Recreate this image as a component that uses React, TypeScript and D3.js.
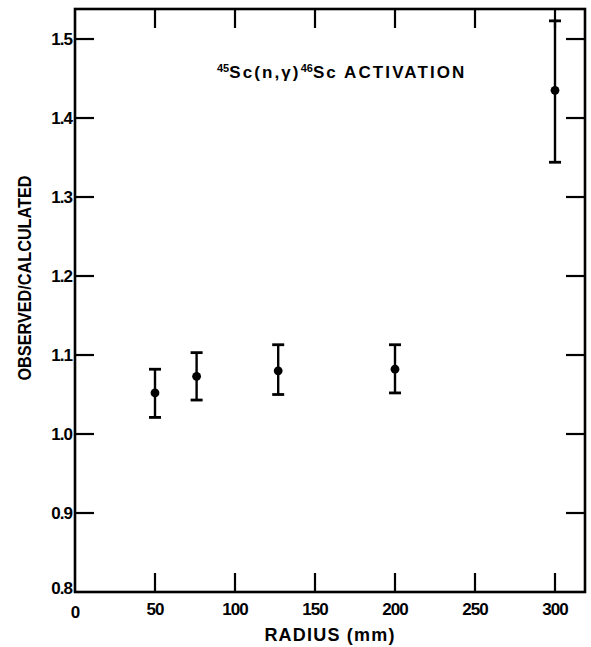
import React from "react";
import * as d3 from "d3";

const radius = [50, 76, 127, 200, 300];
const ratio = [1.052, 1.073, 1.080, 1.082, 1.435];
const lower = [1.021, 1.043, 1.050, 1.052, 1.344];
const upper = [1.082, 1.103, 1.113, 1.113, 1.523];
const xTicks = [0, 50, 100, 150, 200, 250, 300];
const yTicks = [0.8, 0.9, 1.0, 1.1, 1.2, 1.3, 1.4, 1.5];
const yTickLabels = ["0.8", "0.9", "1.0", "1.1", "1.2", "1.3", "1.4", "1.5"];

const W = 591, H = 647;
const left = 75, right = 585, top = 9, bottom = 592;

export default function App() {
  const x = d3.scaleLinear().domain([0, 318.75]).range([left, right]);
  const y = d3.scaleLinear().domain([0.8, 1.538]).range([bottom, top]);
  const font = "'Liberation Sans', Arial, sans-serif";
  const tickLen = 19;
  return (
    <svg width={W} height={H} style={{ position: "absolute", left: 0, top: 0, background: "#fff" }}>
      <rect x={left} y={top} width={right - left} height={bottom - top} fill="none" stroke="#000" strokeWidth={2.6} />
      {xTicks.slice(1).map((t) => (
        <g key={"xt" + t}>
          <line x1={x(t)} x2={x(t)} y1={bottom} y2={bottom - tickLen} stroke="#000" strokeWidth={2.2} />
          <line x1={x(t)} x2={x(t)} y1={top} y2={top + tickLen} stroke="#000" strokeWidth={2.2} />
        </g>
      ))}
      {xTicks.map((t) => (
        <text key={"xl" + t} x={x(t)} y={t === 0 ? 618 : 615} textAnchor="middle" fontFamily={font} fontWeight="bold" fontSize={17} letterSpacing={-1}>
          {t}
        </text>
      ))}
      {yTicks.slice(1).map((t) => (
        <g key={"yt" + t}>
          <line x1={left} x2={left + tickLen} y1={y(t)} y2={y(t)} stroke="#000" strokeWidth={2.2} />
          <line x1={right} x2={right - tickLen} y1={y(t)} y2={y(t)} stroke="#000" strokeWidth={2.2} />
        </g>
      ))}
      {yTicks.map((t, i) => (
        <text key={"yl" + t} x={left - 3} y={y(t) + (i === 0 ? 2 : 6)} textAnchor="end" fontFamily={font} fontWeight="bold" fontSize={17} letterSpacing={-1}>
          {yTickLabels[i]}
        </text>
      ))}
      {radius.map((r, i) => (
        <g key={"p" + i}>
          <line x1={x(r)} x2={x(r)} y1={y(lower[i])} y2={y(upper[i])} stroke="#000" strokeWidth={2.4} />
          <line x1={x(r) - 6} x2={x(r) + 6} y1={y(lower[i])} y2={y(lower[i])} stroke="#000" strokeWidth={2.8} />
          <line x1={x(r) - 6} x2={x(r) + 6} y1={y(upper[i])} y2={y(upper[i])} stroke="#000" strokeWidth={2.8} />
          <circle cx={x(r)} cy={y(ratio[i])} r={4.4} fill="#000" />
        </g>
      ))}
      <text x={217} y={78} fontFamily={font} fontWeight="bold" fontSize={17} letterSpacing={2.1}>
        <tspan fontSize={11} dy={-6} letterSpacing={0}>45</tspan>
        <tspan dy={6}>Sc(n,γ)</tspan>
        <tspan fontSize={11} dy={-6} letterSpacing={0}>46</tspan>
        <tspan dy={6}>Sc ACTIVATION</tspan>
      </text>
      <text x={(left + right) / 2} y={641} textAnchor="middle" fontFamily={font} fontWeight="bold" fontSize={18} letterSpacing={1.2}>
        RADIUS (mm)
      </text>
      <text transform={`translate(31,278) rotate(-90)`} textAnchor="middle" fontFamily={font} fontWeight="bold" fontSize={18} textLength={205} lengthAdjust="spacingAndGlyphs">
        OBSERVED/CALCULATED
      </text>
    </svg>
  );
}
